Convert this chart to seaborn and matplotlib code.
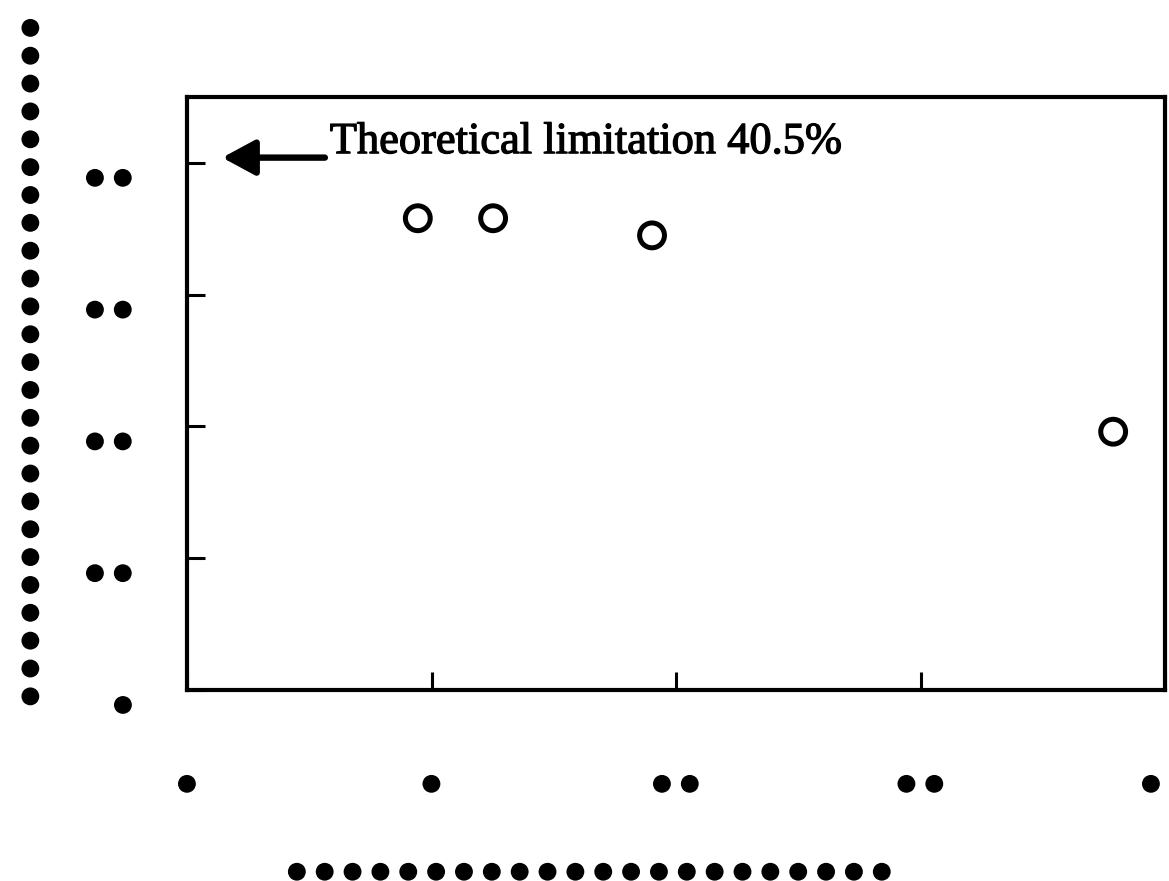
import matplotlib
matplotlib.use("Agg")
import matplotlib.pyplot as plt
import matplotlib.transforms as mtransforms
import matplotlib.patheffects as pe
import seaborn as sns
import pandas as pd

# Values
x_vals = [4.72, 6.26, 9.51, 18.94]
y_vals = [35.8, 35.8, 34.5, 19.6]

x_ticks = [0, 5, 10, 15, 20]
x_tick_labels = ['•', '•', '••', '••', '••']
y_ticks = [0, 10, 20, 30, 40]
y_tick_labels = ['•', '••', '••', '••', '••']

x_label = '•' * 22
y_label = '•' * 25

limit_value = 40.5
limit_text = 'Theoretical limitation 40.5%'

df = pd.DataFrame({'x': x_vals, 'y': y_vals})

sns.set_style('ticks')
plt.rcParams['font.family'] = ['DejaVu Sans']
plt.rcParams['text.color'] = 'black'
plt.rcParams['xtick.labelcolor'] = 'black'
plt.rcParams['ytick.labelcolor'] = 'black'

fig = plt.figure(figsize=(11.69, 8.81), dpi=100)
ax = fig.add_axes([187 / 1169, 1 - 690 / 881, 978 / 1169, 593 / 881])

sns.scatterplot(data=df, x='x', y='y', ax=ax, marker='o', s=320,
                facecolor='none', edgecolor='black', linewidth=3.6, zorder=3)

ax.set_xlim(0, 20)
ax.set_ylim(0, 45)

for side in ['left', 'right', 'top', 'bottom']:
    ax.spines[side].set_visible(True)
    ax.spines[side].set_linewidth(3.0)
    ax.spines[side].set_color('black')

dot_size = 34
# thicken the bullets a bit so they look like the scanned blobs
fat = [pe.withStroke(linewidth=3, foreground='black')]

ax.set_xticks(x_ticks, labels=x_tick_labels, fontsize=dot_size, color='black')
ax.set_yticks(y_ticks, labels=y_tick_labels, fontsize=dot_size, color='black')
ax.tick_params(axis='both', direction='in', length=13, width=2.2, color='black')
ax.tick_params(axis='x', pad=55)
ax.tick_params(axis='y', pad=36)

# y tick labels sit a little below their ticks in the original
shift = mtransforms.ScaledTranslation(0, -15 / 100, fig.dpi_scale_trans)
for lab in ax.get_yticklabels():
    lab.set_transform(lab.get_transform() + shift)
for lab in ax.get_xticklabels() + ax.get_yticklabels():
    lab.set_path_effects(fat)

ax.set_xlabel(x_label, fontsize=dot_size, va='center', color='black')
ax.xaxis.set_label_coords(0.413, -0.315)
ax.set_ylabel(y_label, fontsize=dot_size, va='center', color='black')
ax.yaxis.set_label_coords(-0.155, 0.556)
ax.xaxis.label.set_path_effects(fat)
ax.yaxis.label.set_path_effects(fat)

ax.annotate('', xy=(0.72, 40.4), xytext=(2.82, 40.4),
            arrowprops=dict(arrowstyle='-|>,head_length=1.0,head_width=0.54',
                            mutation_scale=20, lw=4.6, color='black',
                            shrinkA=0, shrinkB=0))
ax.text(2.92, 40.74, limit_text, fontsize=32, family=['Liberation Serif'],
        ha='left', va='baseline', color='black',
        path_effects=[pe.withStroke(linewidth=0.9, foreground='black')])

fig.savefig('out.png', dpi=100, facecolor='white')
